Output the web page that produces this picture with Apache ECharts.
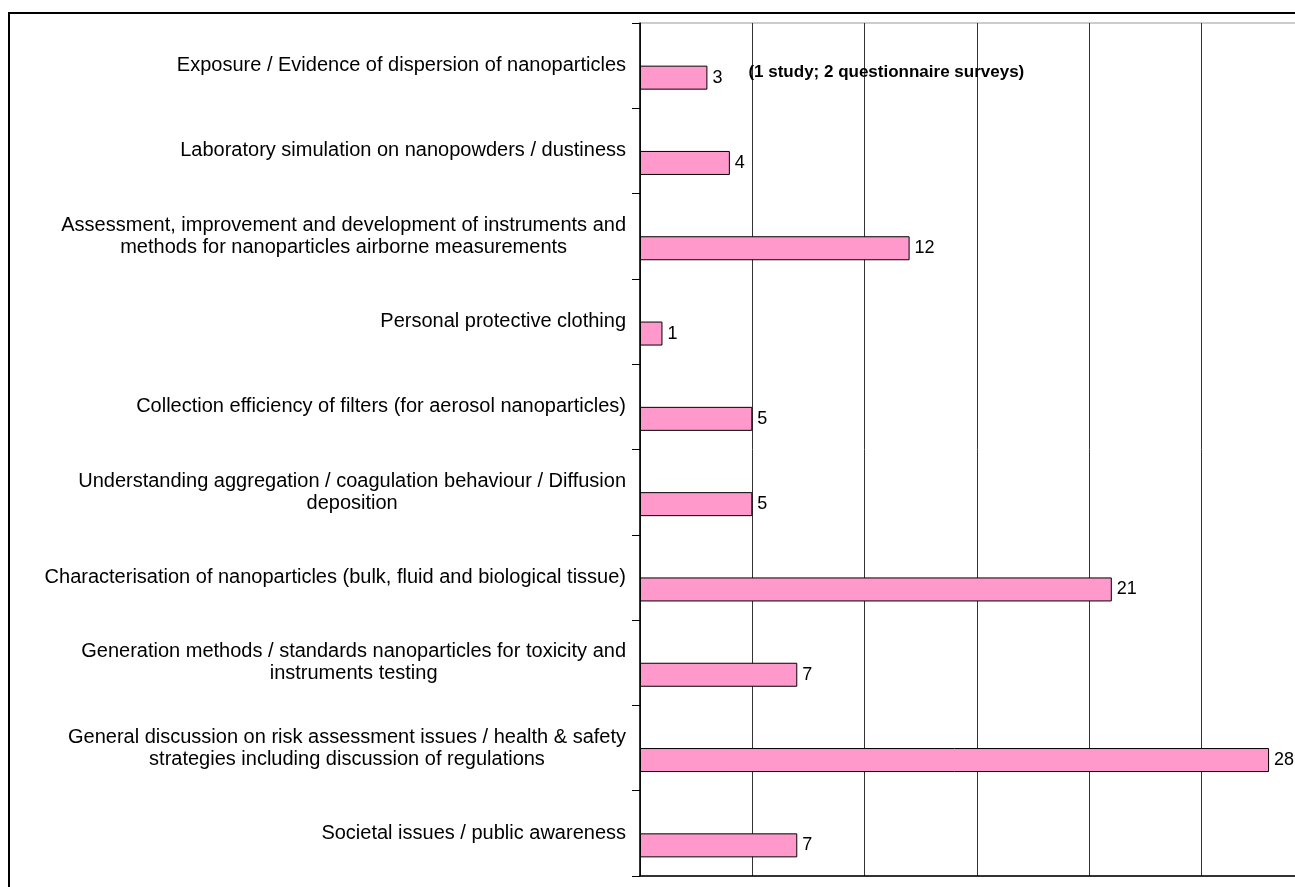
<!DOCTYPE html>
<html lang="en">
<head>
    <meta charset="UTF-8">
    <title>Nanoparticle research topics</title>
    <script src="https://cdn.jsdelivr.net/npm/echarts@6/dist/echarts.min.js"></script>
    <style>
        html,body{margin:0;padding:0;background:#fff}
        #chart{width:1295px;height:887px}
    </style>
</head>
<body>
    <div id="chart"></div>
    <script>
        var categories=[
            'Exposure / Evidence of dispersion of nanoparticles',
            'Laboratory simulation on nanopowders / dustiness',
            'Assessment, improvement and development of instruments and\nmethods for nanoparticles airborne measurements',
            'Personal protective clothing',
            'Collection efficiency of filters (for aerosol nanoparticles)',
            'Understanding aggregation / coagulation behaviour / Diffusion\ndeposition',
            'Characterisation of nanoparticles (bulk, fluid and biological tissue)',
            'Generation methods / standards nanoparticles for toxicity and\ninstruments testing',
            'General discussion on risk assessment issues / health & safety\nstrategies including discussion of regulations',
            'Societal issues / public awareness'
        ];
        var counts=[3,4,12,1,5,5,21,7,28,7];
        var note='(1 study; 2 questionnaire surveys)';
        var font='Arial, "Liberation Sans", sans-serif';

        var barData=counts.map(function(v,i){
            if(i===0){
                return {value:v,label:{formatter:'{v|'+v+'}{n|'+note+'}'}};
            }
            return v;
        });

        var chart=echarts.init(document.getElementById('chart'));
        var option={
            animation:false,
            graphic:[{
                type:'rect',
                shape:{x:9,y:13,width:1320,height:900},
                style:{fill:'none',stroke:'#000',lineWidth:2}
            }],
            grid:{
                left:640,
                top:23,
                bottom:11,
                width:674,
                outerBoundsMode:'none',
                containLabel:false,
                show:true,
                borderColor:'#999',
                borderWidth:1
            },
            xAxis:{
                type:'value',
                min:0,
                max:30,
                interval:5,
                axisLine:{show:true,lineStyle:{color:'#000',width:1.5}},
                axisTick:{show:false},
                axisLabel:{show:false},
                splitLine:{show:true,lineStyle:{color:'#333',width:1}}
            },
            yAxis:{
                type:'category',
                inverse:true,
                data:categories,
                axisLine:{show:true,lineStyle:{color:'#000',width:1.5}},
                axisTick:{show:true,length:8,lineStyle:{color:'#000'}},
                axisLabel:{
                    margin:14,
                    align:'right',
                    color:'#000',
                    fontFamily:font,
                    fontSize:20,
                    lineHeight:22,
                    formatter:function(s){
                        return s.split('\n').map(function(l){return '{c|'+l+'}';}).join('\n');
                    },
                    rich:{
                        c:{align:'center',color:'#000',fontFamily:font,fontSize:20,lineHeight:22}
                    }
                }
            },
            series:[
                {
                    name:'spacer',
                    type:'bar',
                    barWidth:24,
                    barGap:0,
                    data:[]
                },
                {
                    name:'studies',
                    type:'bar',
                    barWidth:24,
                    barGap:0,
                    data:barData,
                    itemStyle:{color:'#ff99cc',borderColor:'#000',borderWidth:1},
                    label:{
                        show:true,
                        position:'right',
                        distance:5,
                        color:'#000',
                        fontFamily:font,
                        fontSize:18,
                        rich:{
                            v:{color:'#000',fontFamily:font,fontSize:18},
                            n:{color:'#000',fontFamily:font,fontSize:17,fontWeight:'bold',padding:[0,0,10,26]}
                        }
                    }
                }
            ]
        };
        chart.setOption(option);
    </script>
</body>
</html>
